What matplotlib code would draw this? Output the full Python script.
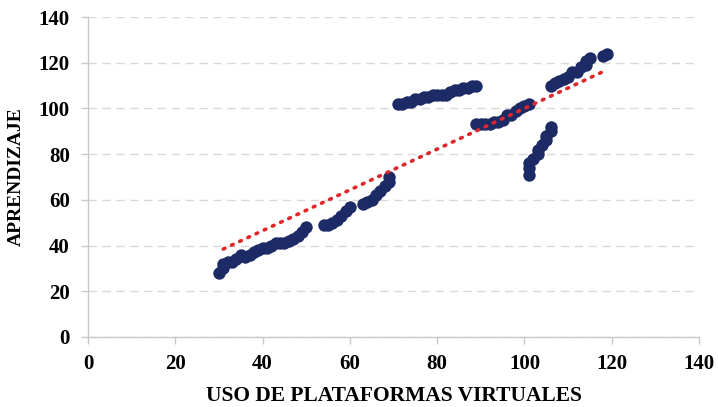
import numpy as np
import matplotlib
matplotlib.use('Agg')
import matplotlib.pyplot as plt

# uso de plataformas virtuales (x) v. aprendizaje (y)
uso = [30, 31, 31, 32, 33, 34, 35, 36, 37, 38, 39, 40, 41, 42, 43, 44, 45, 46, 47, 48, 49, 50,
       54, 55, 56, 57, 58, 59, 60, 63, 64, 65, 66, 67, 68, 69, 69,
       71, 72, 73, 74, 75, 76, 77, 78, 79, 80, 81, 82, 83, 84, 85, 86, 87, 88, 89,
       89, 90, 91, 92, 93, 94, 95, 96, 97, 98, 99, 100, 101,
       101, 101, 101, 102, 103, 103, 104, 105, 105, 106, 106,
       106, 107, 108, 109, 110, 111, 112, 113, 114, 114, 115, 118, 119]
aprendizaje = [28, 30, 32, 33, 33, 34, 36, 35, 36, 37, 38, 39, 39, 40, 41, 41, 41, 42, 43, 44, 46, 48,
               49, 49, 50, 51, 53, 55, 57, 58, 59, 60, 62, 64, 66, 68, 70,
               102, 102, 103, 103, 104, 104, 105, 105, 106, 106, 106, 106, 107, 108, 108, 109, 109, 110, 110,
               93, 93, 93, 93, 94, 94, 95, 97, 97, 99, 100, 101, 102,
               71, 74, 76, 78, 80, 82, 84, 86, 88, 90, 92,
               110, 111, 112, 113, 114, 116, 116, 118, 119, 121, 122, 123, 124]

# linea de tendencia
tend_x = [31, 119]
tend_y = [38.5, 117]

plt.rcParams['font.family'] = ['Liberation Serif', 'DejaVu Serif']

fig = plt.figure(figsize = (7.18, 4.07), dpi = 100)
ax = fig.add_axes([0.1226, 0.172, 0.851, 0.786])

ax.scatter(uso, aprendizaje, s = 80, color = '#1c2a66', zorder = 3, linewidths = 0)

ax.plot(tend_x, tend_y, color = '#e0262b', lw = 2.6, linestyle = (0, (0.5, 2.0)),
        dash_capstyle = 'round', zorder = 4)

ax.set_xlim(0, 140)
ax.set_ylim(0, 140)
ax.set_xticks(range(0, 141, 20))
ax.set_yticks(range(0, 141, 20))
ax.grid(axis = 'y', color = '#d9d9d9', linestyle = (0, (6, 4)), lw = 1.0)
ax.set_axisbelow(True)

for s in ['top', 'right']:
    ax.spines[s].set_visible(False)
for s in ['left', 'bottom']:
    ax.spines[s].set_color('#c8c8c8')
    ax.spines[s].set_linewidth(1.0)

ax.tick_params(axis = 'both', colors = '#c8c8c8', length = 5, width = 1.0, labelsize = 15)
for lab in ax.get_xticklabels() + ax.get_yticklabels():
    lab.set_color('black')
    lab.set_fontweight('bold')
ax.tick_params(axis = 'x', pad = 7)
ax.tick_params(axis = 'y', pad = 8)

ax.set_xlabel('USO DE PLATAFORMAS VIRTUALES', fontsize = 15.5, fontweight = 'bold', labelpad = 9)
ax.set_ylabel('APRENDIZAJE', fontsize = 14, fontweight = 'bold', labelpad = 10)

fig.savefig('out.png', facecolor = 'white')
